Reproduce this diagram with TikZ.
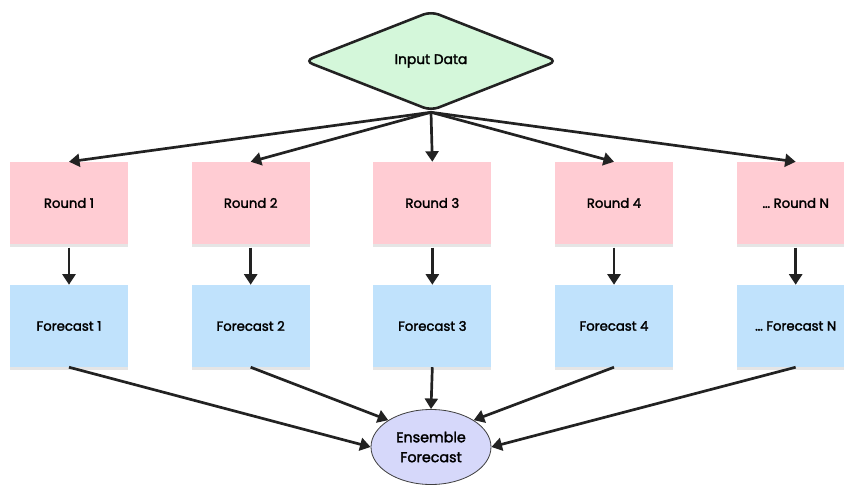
\documentclass[tikz,border=0pt]{standalone}
\usepackage{fontspec}
\setmainfont{Poppins}[UprightFeatures={FakeBold=2}]
\usetikzlibrary{shapes.geometric, arrows.meta, shadows}

\definecolor{inputgreen}{HTML}{D4F7DA}
\definecolor{roundpink}{HTML}{FFCCD3}
\definecolor{castblue}{HTML}{C0E2FC}
\definecolor{enslav}{HTML}{D6D8FA}
\definecolor{linedark}{HTML}{222222}

\tikzset{
	box/.style={rectangle, minimum width=3.54cm, minimum height=2.46cm, inner sep=0pt,
		font=\fontsize{11.3}{13}\selectfont,
		drop shadow={shadow xshift=0pt, shadow yshift=-2.5pt, fill=black!10, opacity=1}},
	roundbox/.style={box, fill=roundpink},
	castbox/.style={box, fill=castblue},
	flow/.style={draw=linedark, line width=2.3pt, -{Triangle[length=9pt, width=11pt]}}
}

\begin{document}
\begin{tikzpicture}
		\def\dx{5.45}
		\def\xa{2.07}
		\def\yr{-6.09}
		\def\yf{-9.78}
		\useasboundingbox (0,0) rectangle (25.32,-14.76);
		% input at the top
		\node[diamond, draw=linedark, line width=2.2pt, fill=inputgreen, rounded corners=7pt,
			minimum width=7.6cm, minimum height=3.0cm, inner sep=0pt,
			font=\fontsize{11.8}{13}\selectfont] (in) at (12.93,-1.83) {Input Data};
		% one round per column
		\node[roundbox] (r1) at (\xa, \yr) {Round 1};
		\node[roundbox] (r2) at (\xa+\dx, \yr) {Round 2};
		\node[roundbox] (r3) at (\xa+2*\dx, \yr) {Round 3};
		\node[roundbox] (r4) at (\xa+3*\dx, \yr) {Round 4};
		\node[roundbox] (rn) at (\xa+4*\dx, \yr) {\dots\ Round N};
		\node[castbox] (f1) at (\xa, \yf) {Forecast 1};
		\node[castbox] (f2) at (\xa+\dx, \yf) {Forecast 2};
		\node[castbox] (f3) at (\xa+2*\dx, \yf) {Forecast 3};
		\node[castbox] (f4) at (\xa+3*\dx, \yf) {Forecast 4};
		\node[castbox] (fn) at (\xa+4*\dx, \yf) {\dots\ Forecast N};
		\node[ellipse, draw=black!75, line width=0.7pt, fill=enslav, minimum width=3.6cm,
			minimum height=2.25cm, inner sep=0pt, align=center,
			font=\fontsize{12.2}{17}\selectfont] (ens) at (12.93,-13.41) {Ensemble\\Forecast};
		% connectors
		\draw[flow] (in.south) -- (r1.north);
		\draw[flow] (in.south) -- (r2.north);
		\draw[flow] (in.south) -- (r3.north);
		\draw[flow] (in.south) -- (r4.north);
		\draw[flow] (in.south) -- (rn.north);
		\draw[flow] ([yshift=-3pt]r1.south) -- (f1.north);
		\draw[flow] ([yshift=-3pt]r2.south) -- (f2.north);
		\draw[flow] ([yshift=-3pt]r3.south) -- (f3.north);
		\draw[flow] ([yshift=-3pt]r4.south) -- (f4.north);
		\draw[flow] ([yshift=-3pt]rn.south) -- (fn.north);
		\draw[flow] (f1.south) -- (ens.west);
		\draw[flow] (f2.south) -- (ens.north west);
		\draw[flow] (f3.south) -- (ens.north);
		\draw[flow] (f4.south) -- (ens.north east);
		\draw[flow] (fn.south) -- (ens.east);
	\end{tikzpicture}
\end{document}
